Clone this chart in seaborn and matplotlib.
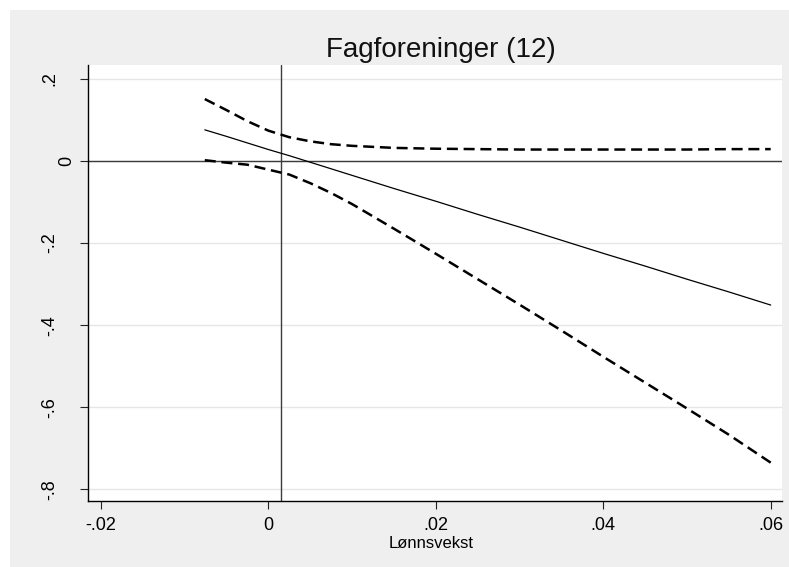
import matplotlib
matplotlib.use("Agg")
import matplotlib.pyplot as plt
from matplotlib.patches import Rectangle
from matplotlib import transforms
import numpy as np
import pandas as pd
import seaborn as sns

# Marginal effect of union membership over wage growth, with 95% bounds
lonnsvekst = [-0.0076, -0.005, -0.0025, 0.0, 0.0025, 0.005, 0.0075, 0.01, 0.015,
              0.02, 0.025, 0.03, 0.035, 0.04, 0.045, 0.05, 0.055, 0.06]
effekt = [0.076, 0.060, 0.044, 0.028, 0.013, -0.003, -0.019, -0.035, -0.067,
          -0.098, -0.130, -0.161, -0.193, -0.225, -0.256, -0.288, -0.319, -0.351]
ovre = [0.151, 0.124, 0.097, 0.074, 0.058, 0.048, 0.041, 0.037, 0.032,
        0.030, 0.029, 0.028, 0.028, 0.028, 0.028, 0.028, 0.029, 0.029]
nedre = [0.002, -0.004, -0.009, -0.021, -0.033, -0.054, -0.078, -0.105, -0.165,
         -0.226, -0.288, -0.350, -0.413, -0.477, -0.540, -0.603, -0.667, -0.735]

xline_verdi = 0.0015
x_ticks = [-0.02, 0.0, 0.02, 0.04, 0.06]
x_ticklabels = ["-.02", "0", ".02", ".04", ".06"]
y_ticks = [0.2, 0.0, -0.2, -0.4, -0.6, -0.8]
y_ticklabels = [".2", "0", "-.2", "-.4", "-.6", "-.8"]
tittel = "Fagforeninger (12)"
x_tittel = "Lønnsvekst"

df = pd.DataFrame({"x": lonnsvekst, "effekt": effekt, "ovre": ovre, "nedre": nedre})

sns.set_theme(style="white")
plt.rcParams["font.family"] = ["Liberation Sans", "DejaVu Sans"]

W, H = 789, 567
fig = plt.figure(figsize=(W / 100, H / 100), dpi=100, facecolor="white")
# grey graph region framed by a thin white margin at top and left
fig.patches.append(Rectangle((10 / W, 0), (W - 10) / W, (H - 10) / H,
                             transform=fig.transFigure, facecolor="#efefef",
                             edgecolor="none", zorder=-10))

left, right, top, bottom = 88, 782, 65, 501
ax = fig.add_axes([left / W, (H - bottom) / H, (right - left) / W, (bottom - top) / H])
ax.set_facecolor("white")

for yv in y_ticks:
    ax.axhline(yv, color="#e6e6e6", lw=1.0, zorder=0)
ax.axhline(0, color="#3c3c3c", lw=1.0, zorder=1)
ax.axvline(xline_verdi, color="#3c3c3c", lw=1.0, zorder=1)

dash = (0, (4.4, 2.3))
sns.lineplot(data=df, x="x", y="ovre", ax=ax, color="black", lw=1.8,
             linestyle=dash, estimator=None, sort=False, zorder=3)
sns.lineplot(data=df, x="x", y="nedre", ax=ax, color="black", lw=1.8,
             linestyle=dash, estimator=None, sort=False, zorder=3)
sns.lineplot(data=df, x="x", y="effekt", ax=ax, color="black", lw=0.9,
             estimator=None, sort=False, zorder=3)

ax.set_xlim(-0.02155, 0.06135)
ax.set_ylim(-0.8285, 0.234)

for side in ["top", "right"]:
    ax.spines[side].set_visible(False)
for side in ["left", "bottom"]:
    ax.spines[side].set_color("black")
    ax.spines[side].set_linewidth(1.0)

ax.set_xticks(x_ticks)
ax.set_xticklabels(x_ticklabels, fontsize=13, color="black")
ax.set_yticks(y_ticks)
ax.tick_params(axis="both", direction="out", length=5.7, width=0.8, color="#222222",
               bottom=True, left=True)
ax.tick_params(axis="x", pad=5.5)
ax.tick_params(axis="y", labelleft=False)

# vertical y tick labels, baseline facing the axis
blend = transforms.blended_transform_factory(ax.transAxes, ax.transData)
for yv, lab in zip(y_ticks, y_ticklabels):
    bx = (71.5 - left) / (right - left) if lab == "0" else (54.5 - left) / (right - left)
    ax.text(bx, yv, lab, transform=blend, rotation=90, rotation_mode="anchor",
            ha="center", va="baseline", fontsize=13, color="black")

ax.set_xlabel(x_tittel, fontsize=12, color="black")
ax.xaxis.set_label_coords((431 - left) / (right - left), -(536.5 - bottom) / (bottom - top))
ax.set_ylabel("")

ax.text((441 - left) / (right - left), (bottom - 56.7) / (bottom - top), tittel,
        transform=ax.transAxes, ha="center", va="baseline", fontsize=20, color="#111111")

fig.savefig("out.png", dpi=100, facecolor="white")
